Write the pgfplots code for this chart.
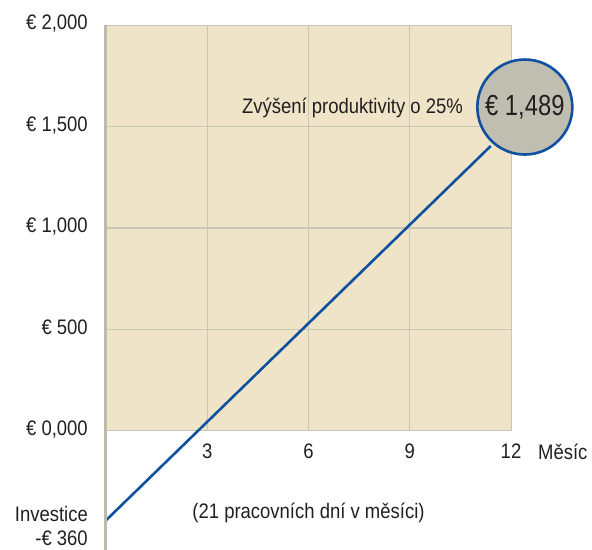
\documentclass[border=0pt]{standalone}
\usepackage{pgfplots}
\pgfplotsset{compat=1.18}
\usepackage{fontspec}
\setmainfont{Liberation Sans}[FakeStretch=0.88]
\definecolor{beige}{RGB}{239,228,200}
\definecolor{gridc}{RGB}{202,197,182}
\definecolor{axisc}{RGB}{190,186,172}
\definecolor{lineblue}{RGB}{16,80,160}
\definecolor{circfill}{RGB}{192,190,176}
\definecolor{txt}{RGB}{35,31,32}
\begin{document}
\begin{tikzpicture}[font=\fontsize{21bp}{24bp}\selectfont, text=txt]
\begin{axis}[
  x=33.75bp, y=0.203bp,
  xmin=0, xmax=12, ymin=-586, ymax=2000,
  axis x line*=middle, axis y line*=left,
  axis line style={draw=none},
  axis on top,
  clip=false,
  xtick={3,6,9,12}, xticklabels={3,6,9,12},
  ytick={0,500,1000,1500,2000},
  yticklabels={{€ 0,000},{€ 500},{€ 1,000},{€ 1,500},{€ 2,000}},
  major tick length=0pt, tick style={draw=none},
  xticklabel style={anchor=base, inner sep=0pt, yshift=-28bp, font=\fontsize{21bp}{24bp}\selectfont, text=txt},
  yticklabel style={anchor=east, inner sep=0pt, xshift=-18bp, font=\fontsize{21bp}{24bp}\selectfont, text=txt},
  typeset ticklabels with strut=false,
]
\coordinate (O) at (axis cs:0,0);
\filldraw[fill=beige, draw=gridc, line width=1bp] (axis cs:0,0) rectangle (axis cs:12,2000);
\pgfplotsinvokeforeach{3,6,9}{\draw[gridc, line width=1.2bp] (axis cs:#1,0) -- (axis cs:#1,2000);}
\pgfplotsinvokeforeach{500,1000,1500}{\draw[gridc, line width=1.2bp] (axis cs:0,#1) -- (axis cs:12,#1);}
\addplot[lineblue, line width=2.6bp, no marks] coordinates {(0,-440) (11.4,1404)};
\node[circle, draw=lineblue, line width=2.6bp, fill=circfill, minimum size=95bp, inner sep=0pt,
  font=\fontsize{29bp}{32bp}\selectfont\addfontfeature{FakeStretch=0.82}] at (axis cs:12.41,1596) {€ 1,489};
\node[anchor=east, inner sep=0pt] at (axis cs:10.58,1591) {Zvýšení produktivity o 25\%};
\node[anchor=base west, inner sep=0pt] at (axis cs:12.8,-138) {Měsíc};
\node[anchor=base, inner sep=0pt] at (axis cs:6,-433) {(21 pracovních dní v měsíci)};
\node[anchor=base east, inner sep=0pt, xshift=-18bp] at (axis cs:0,-446) {Investice};
\node[anchor=base east, inner sep=0pt, xshift=-18bp] at (axis cs:0,-566) {-€ 360};
\draw[axisc, line width=3bp] (axis cs:0,-600) -- (axis cs:0,2000);
\end{axis}
\pgfresetboundingbox
\path (O) ++(-106bp,-119bp) rectangle ++(592bp,550bp);
\end{tikzpicture}
\end{document}
